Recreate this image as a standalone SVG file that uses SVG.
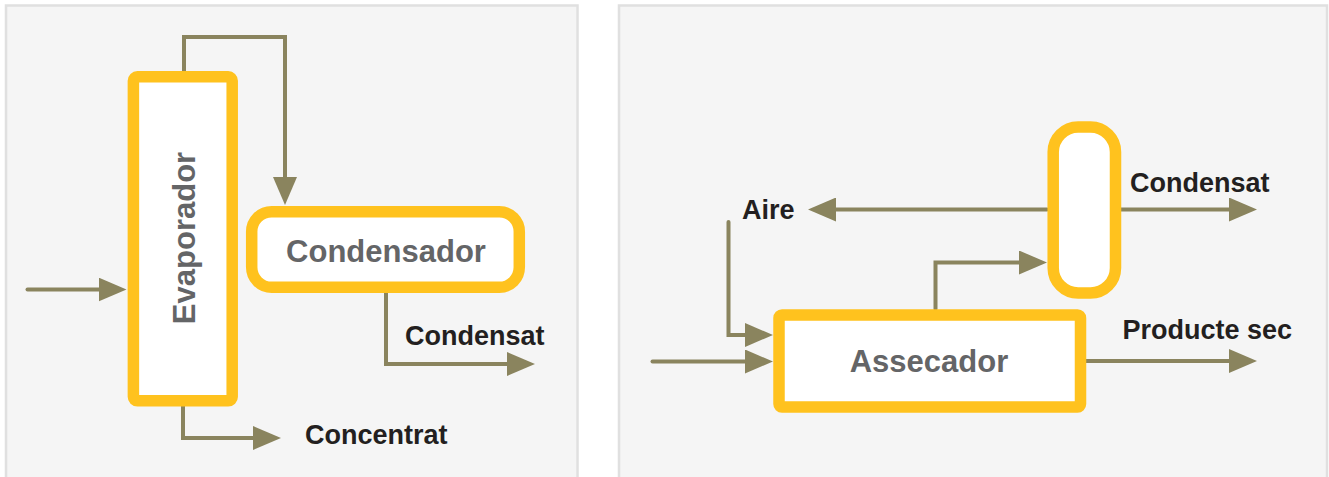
<svg xmlns="http://www.w3.org/2000/svg" width="1329" height="477" viewBox="0 0 1329 477">
  <style>
    .panel { fill: #f5f5f5; stroke: #e0e0e0; stroke-width: 2.5; }
    .node { fill: #ffffff; stroke: #ffc21e; stroke-width: 11.5; }
    .ntext { font-family: "Liberation Sans", Arial, sans-serif; font-weight: bold; font-size: 31px; fill: #646567; text-anchor: middle; }
    .label { font-family: "Liberation Sans", Arial, sans-serif; font-weight: bold; font-size: 27px; fill: #231f20; }
    .conn { fill: none; stroke: #8a845e; stroke-width: 4; stroke-linecap: round; stroke-linejoin: miter; }
  </style>
  <defs>
    <marker id="arrow" markerUnits="userSpaceOnUse" markerWidth="28" markerHeight="24" refX="18" refY="12" orient="auto">
      <path d="M0,0 L28,12 L0,24 z" fill="#8a845e"/>
    </marker>
  </defs>

  <rect class="panel" x="6" y="5.5" width="571.5" height="480"/>
  <rect class="panel" x="619" y="5.5" width="708" height="480"/>

  <g id="connectors">
    <path class="conn" d="M27.5,289.5 H116.5" marker-end="url(#arrow)"/>
    <path class="conn" d="M184,71 V37 H285 V195" marker-end="url(#arrow)"/>
    <path class="conn" d="M386,293 V364 H525" marker-end="url(#arrow)"/>
    <path class="conn" d="M183,406 V438 H271" marker-end="url(#arrow)"/>
    <path class="conn" d="M1047,209.5 H818" marker-end="url(#arrow)"/>
    <path class="conn" d="M1121,209.5 H1247" marker-end="url(#arrow)"/>
    <path class="conn" d="M935.5,309 V262.5 H1037" marker-end="url(#arrow)"/>
    <path class="conn" d="M728.5,222 V335 H763" marker-end="url(#arrow)"/>
    <path class="conn" d="M652.5,361.5 H763" marker-end="url(#arrow)"/>
    <path class="conn" d="M1086,361 H1247" marker-end="url(#arrow)"/>
  </g>

  <g id="evaporador">
    <rect class="node" x="133.4" y="76.8" width="98.8" height="324" rx="4"/>
    <text class="ntext" transform="translate(194.5,238) rotate(-90)">Evaporador</text>
  </g>

  <g id="condensador">
    <rect class="node" x="251.7" y="211.7" width="267.6" height="75.6" rx="20"/>
    <text class="ntext" x="386" y="261.7">Condensador</text>
  </g>

  <g id="condensador2">
    <rect class="node" x="1053.2" y="127" width="62.3" height="166" rx="25"/>
  </g>

  <g id="assecador">
    <rect class="node" x="779" y="315" width="301.5" height="92" rx="3"/>
    <text class="ntext" x="929" y="371.7">Assecador</text>
  </g>

  <g id="labels">
    <text class="label" x="405" y="345">Condensat</text>
    <text class="label" x="305" y="444.3">Concentrat</text>
    <text class="label" x="742" y="219">Aire</text>
    <text class="label" x="1130" y="191.7">Condensat</text>
    <text class="label" x="1122.5" y="339">Producte sec</text>
  </g>
</svg>
